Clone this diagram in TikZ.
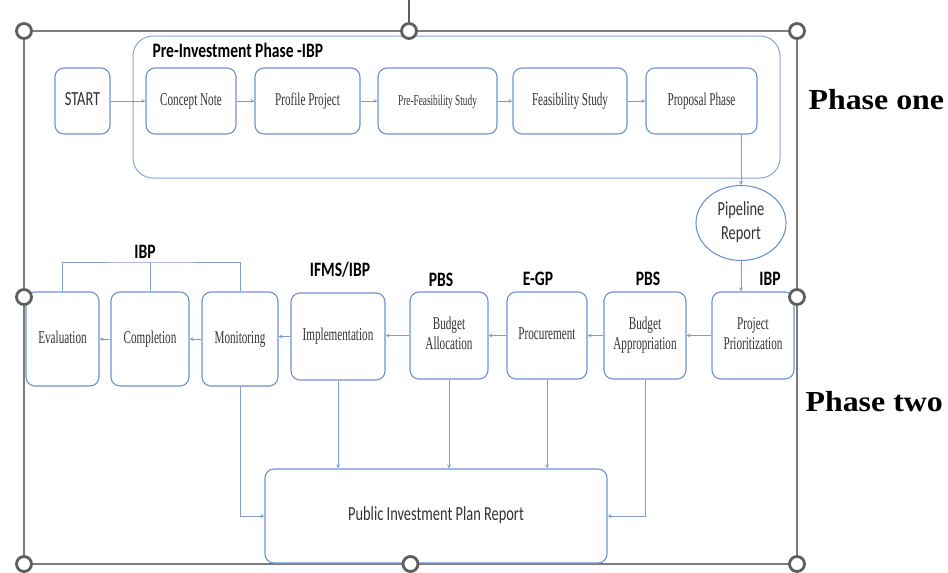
\documentclass[tikz,border=0pt]{standalone}
\usepackage{fontspec}
\usepackage{graphicx}
\usepackage{xcolor}
\setmainfont{Liberation Serif}
\newfontfamily\calibri{Carlito}
\usetikzlibrary{shapes.geometric}

\definecolor{boxblue}{HTML}{6D92D2}
\definecolor{paleblue}{HTML}{86A5DA}
\definecolor{lineblue}{HTML}{7F9BD0}
\definecolor{handlegray}{HTML}{5E5E5E}
\definecolor{framegray}{HTML}{7C7C7C}

% squeezed texts, as in the screenshot
\newcommand{\sertxt}[2][18]{\scalebox{0.62}[1]{\fontsize{#1}{20}\selectfont\begin{tabular}{@{}c@{}}#2\end{tabular}}}
\newcommand{\santxt}[1]{\scalebox{0.72}[1]{\calibri\fontsize{20}{24}\selectfont\begin{tabular}{@{}c@{}}#1\end{tabular}}}
\newcommand{\tagtxt}[1]{\scalebox{0.76}[1]{\calibri\bfseries\fontsize{20.5}{24}\selectfont #1}}
\newcommand{\phasetxt}[1]{\scalebox{1.1}[1]{\bfseries\fontsize{29}{34}\selectfont #1}}

\begin{document}
\begin{tikzpicture}[x=1pt, y=-1pt,
          stepbox/.style={draw=boxblue, line width=1.1pt, rounded corners=9pt, fill=white, inner sep=0pt, text=black!80},
          arr/.style={-stealth, draw=lineblue, line width=0.8pt},
          handle/.style={circle, draw=handlegray, line width=2.8pt, fill=white, minimum size=15pt, inner sep=0pt},
        ]
          \useasboundingbox (0,0) rectangle (948,573);
          % selection frame
          \draw[framegray, line width=1.6pt] (24,31) rectangle (797,564);

          % phase one
          \node[draw=paleblue, line width=1pt, rounded corners=20pt, minimum width=647pt, minimum height=142pt] (preinv) at (456.5,107) {};
          \node[anchor=west] (preinvtitle) at (149,50) {\tagtxt{Pre-Investment Phase -IBP}};
          \node[stepbox, minimum width=55pt, minimum height=66pt] (start) at (82.5,101) {\santxt{START}};
          \node[stepbox, minimum width=90pt, minimum height=66pt] (concept) at (191,101) {\sertxt{Concept Note}};
          \node[stepbox, minimum width=105pt, minimum height=66pt] (profile) at (307.5,101) {\sertxt{Profile Project}};
          \node[stepbox, minimum width=119pt, minimum height=66pt] (prefeas) at (437.5,101) {\sertxt[15]{Pre-Feasibility Study}};
          \node[stepbox, minimum width=114pt, minimum height=66pt] (feas) at (570,101) {\sertxt{Feasibility Study}};
          \node[stepbox, minimum width=111pt, minimum height=66pt] (proposal) at (701.5,101) {\sertxt{Proposal Phase}};
          \node[stepbox, ellipse, rounded corners=0pt, minimum width=90pt, minimum height=75pt] (pipeline) at (741,223) {\santxt{Pipeline\\Report}};

          \draw[arr] (start) -- (concept);
          \draw[arr] (concept) -- (profile);
          \draw[arr] (profile) -- (prefeas);
          \draw[arr] (prefeas) -- (feas);
          \draw[arr] (feas) -- (proposal);
          \draw[arr] (proposal.south -| pipeline.north) -- (pipeline.north);

          % phase two
          \node[stepbox, minimum width=82pt, minimum height=87pt] (prior) at (753,335.5) {\sertxt{Project\\Prioritization}};
          \node[stepbox, minimum width=82pt, minimum height=87pt] (approp) at (645,335.5) {\sertxt{Budget\\Appropriation}};
          \node[stepbox, minimum width=80pt, minimum height=87pt] (procure) at (547,335.5) {\sertxt{Procurement}};
          \node[stepbox, minimum width=78pt, minimum height=87pt] (alloc) at (449,335.5) {\sertxt{Budget\\Allocation}};
          \node[stepbox, minimum width=94pt, minimum height=87pt] (implem) at (338,336.5) {\sertxt{Implementation}};
          \node[stepbox, minimum width=76pt, minimum height=94pt] (monit) at (240,339) {\sertxt{Monitoring}};
          \node[stepbox, minimum width=78pt, minimum height=94pt] (compl) at (150,339) {\sertxt{Completion}};
          \node[stepbox, minimum width=73pt, minimum height=94pt] (evalu) at (62.5,339) {\sertxt{Evaluation}};
          \node[stepbox, minimum width=342pt, minimum height=94pt] (report) at (436,516) {\santxt{Public Investment Plan Report}};

          \node (ibptagtop) at (770,279) {\tagtxt{IBP}};
          \node (pbstagright) at (648,279) {\tagtxt{PBS}};
          \node (egptag) at (538,279) {\tagtxt{E-GP}};
          \node (pbstagleft) at (441,280) {\tagtxt{PBS}};
          \node (ifmstag) at (340,270) {\tagtxt{IFMS/IBP}};
          \node (ibptagleft) at (145,252) {\tagtxt{IBP}};

          \draw[arr] (pipeline.south) -- (pipeline.south |- prior.north);
          \draw[arr] (prior.west) -- (prior.west -| approp.east);
          \draw[arr] (approp.west) -- (approp.west -| procure.east);
          \draw[arr] (procure.west) -- (procure.west -| alloc.east);
          \draw[arr] (alloc.west) -- (alloc.west -| implem.east);
          \draw[arr] (implem.west) -- (implem.west -| monit.east);
          \draw[arr] (monit.west) -- (monit.west -| compl.east);
          \draw[arr] (compl.west) -- (compl.west -| evalu.east);

          \coordinate (ibpbar) at (150,262);
          \draw[lineblue, line width=0.8pt] (evalu.north) |- (ibpbar) -| (monit.north);
          \draw[lineblue, line width=0.8pt] (compl.north) -- (ibpbar);

          \draw[arr] (implem.south) -- (implem.south |- report.north);
          \draw[arr] (alloc.south) -- (alloc.south |- report.north);
          \draw[arr] (procure.south) -- (procure.south |- report.north);
          \draw[arr] (monit.south) |- (report.west);
          \draw[arr] (approp.south) |- (report.east);

          \node[anchor=west] (phaseone) at (805,100) {\phasetxt{Phase one}};
          \node[anchor=west] (phasetwo) at (802,402) {\phasetxt{Phase two}};

          % handles
          \draw[handlegray, line width=1.2pt] (409,0) -- (409,24);
          \foreach \hx/\hy [count=\i] in {24/31, 409/31, 797/31, 24/297, 797/297, 24/564, 410.5/564, 797/564}
            \node[handle] (handle\i) at (\hx,\hy) {};
        \end{tikzpicture}
\end{document}
